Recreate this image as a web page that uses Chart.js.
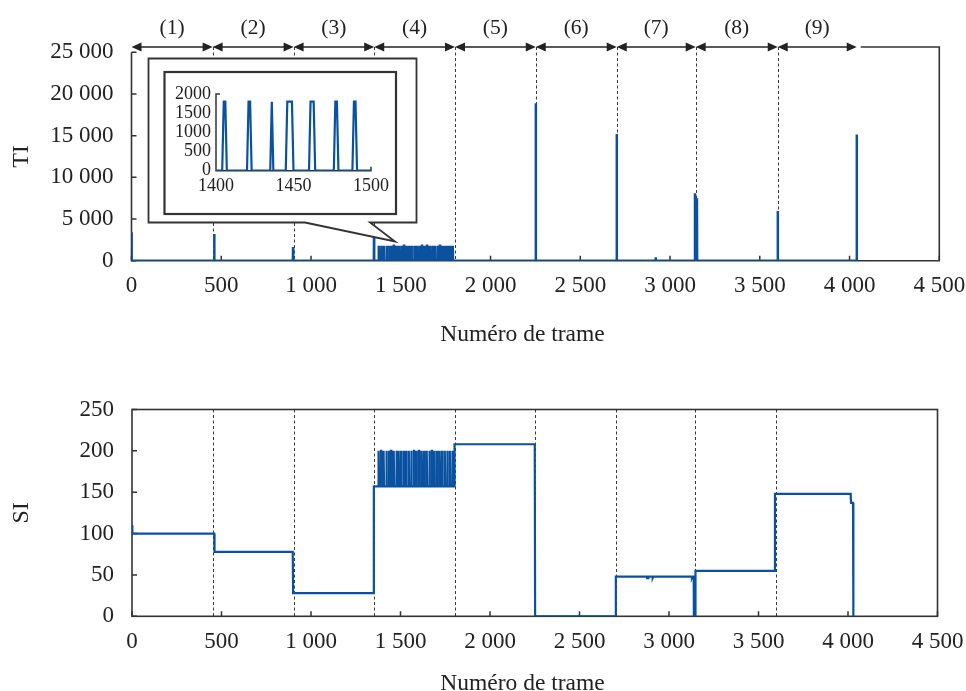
<!doctype html>
<html lang="fr">
<head>
<meta charset="utf-8">
<title>TI / SI par numéro de trame</title>
<style>
  * { margin: 0; padding: 0; }
  body { width: 966px; height: 691px; background: #fff; position: relative; overflow: hidden; }
  canvas { position: absolute; left: 0; }
  #tiChart { top: 0; }
  #siChart { top: 345px; }
  #zoomChart { left: 164px; top: 72px; }
</style>
</head>
<body>
<canvas id="tiChart" width="966" height="345"></canvas>
<canvas id="siChart" width="966" height="346"></canvas>
<canvas id="zoomChart" width="232" height="142"></canvas>
<script src="https://cdn.jsdelivr.net/npm/chart.js/dist/chart.umd.min.js"></script>
<script>
// segment boundaries (frame numbers)
const segmentBounds = [0, 452, 903, 1352, 1802, 2252, 2703, 3143, 3600, 4040];
const segmentLabels = ['(1)', '(2)', '(3)', '(4)', '(5)', '(6)', '(7)', '(8)', '(9)'];

// TI : isolated peaks
const tiSpikeFrames = [0, 461, 900, 1351, 2252, 2703, 2920, 3139, 3150, 3600, 4040];
const tiSpikeValues = [3400, 3200, 1650, 3050, 18900, 15200, 400, 8100, 7500, 5950, 15150];

// section (4) : flashing frames, first / last frame of each plateau
const flashStart = [1377, 1391, 1405, 1421, 1436, 1446, 1461, 1477, 1489, 1503, 1518, 1531, 1546, 1560, 1575,
                    1589, 1603, 1618, 1632, 1646, 1661, 1675, 1689, 1704, 1718, 1732, 1747, 1761, 1775, 1789];
const flashEnd   = [1378, 1392, 1406, 1422, 1436, 1449, 1463, 1478, 1490, 1504, 1519, 1532, 1547, 1561, 1576,
                    1590, 1604, 1619, 1633, 1647, 1662, 1676, 1690, 1705, 1719, 1733, 1748, 1762, 1776, 1790];
const flashTI = 1800;
const flashSILow = 157;
const flashSIHigh = 200;

// SI : step levels
const siFrames = [0, 2, 459, 461, 898, 900, 1349, 1351, 1800, 1802, 2250, 2252, 2701, 2703, 2877, 2878, 2884,
                  2885, 2908, 2909, 2912, 3127, 3128, 3131, 3138, 3139, 3147, 3148, 3590, 3592, 4015, 4017, 4028, 4030];
const siValues = [110, 100, 100, 78, 78, 28, 28, 157, 157, 208, 208, 0, 0, 48, 48, 46, 46,
                  48, 48, 46.5, 48, 48, 46.5, 48, 48, 0, 0, 55, 55, 148, 148, 137, 137, 0];

const blue = '#0a52a0';
const ink = '#222';
const serif = "'Liberation Serif', 'Times New Roman', serif";
const spaced = v => String(v).replace(/\B(?=(\d{3})+(?!\d))/g, ' ');

function buildTI() {
  const pts = [];
  tiSpikeFrames.forEach((f, i) => {
    if (f > 0) pts.push({ x: f - 1, y: 0 });
    pts.push({ x: f, y: tiSpikeValues[i] }, { x: f + 1, y: 0 });
  });
  flashStart.forEach((s, i) => {
    pts.push({ x: s - 1, y: 0 }, { x: s, y: flashTI }, { x: flashEnd[i], y: flashTI }, { x: flashEnd[i] + 1, y: 0 });
  });
  return pts.sort((a, b) => a.x - b.x);
}

function buildSI() {
  const pts = siFrames.map((f, i) => ({ x: f, y: siValues[i] }));
  flashStart.forEach((s, i) => {
    pts.push({ x: s - 1, y: flashSILow }, { x: s, y: flashSIHigh },
             { x: flashEnd[i], y: flashSIHigh }, { x: flashEnd[i] + 2, y: flashSILow });
  });
  return pts.sort((a, b) => a.x - b.x);
}

const tiPoints = buildTI();
const siPoints = buildSI();

function lineSet(points, width) {
  return { data: points, borderColor: blue, borderWidth: width, pointRadius: 0, tension: 0, fill: false };
}

function ticksFont(size) {
  return { family: serif, size: size, lineHeight: 1.2 };
}

// label overflow must not shrink the plot area
function noLabelPadding(scale) {
  scale.paddingLeft = 0;
  scale.paddingRight = 0;
  scale.paddingTop = 0;
  scale.paddingBottom = 0;
}

// inward ticks, shared by both big charts
function drawTicks(chart, len) {
  const { ctx, chartArea: { left, bottom }, scales: { x, y } } = chart;
  ctx.strokeStyle = '#333';
  ctx.lineWidth = 1.5;
  ctx.beginPath();
  x.ticks.forEach(t => {
    const px = x.getPixelForValue(t.value);
    ctx.moveTo(px, bottom); ctx.lineTo(px, bottom - len);
  });
  y.ticks.forEach(t => {
    const py = y.getPixelForValue(t.value);
    ctx.moveTo(left, py); ctx.lineTo(left + len, py);
  });
  ctx.stroke();
}

function drawSeparators(chart, fromY) {
  const { ctx, chartArea: { bottom }, scales: { x } } = chart;
  ctx.save();
  ctx.strokeStyle = '#3a3a3a';
  ctx.lineWidth = 1;
  ctx.setLineDash([3, 2.5]);
  segmentBounds.slice(1, -1).forEach(f => {
    const px = Math.round(x.getPixelForValue(f)) + 0.5;
    ctx.beginPath(); ctx.moveTo(px, fromY); ctx.lineTo(px, bottom); ctx.stroke();
  });
  ctx.restore();
}

function drawTitles(chart, yTitle, xTitleBaseline) {
  const { ctx, chartArea: { top, bottom } } = chart;
  ctx.save();
  ctx.fillStyle = ink;
  ctx.font = `23.5px ${serif}`;
  ctx.textAlign = 'center';
  ctx.textBaseline = 'alphabetic';
  ctx.fillText('Numéro de trame', 522.5, xTitleBaseline);
  ctx.translate(22, (top + bottom) / 2);
  ctx.rotate(-Math.PI / 2);
  ctx.font = `24px ${serif}`;
  ctx.textBaseline = 'middle';
  ctx.fillText(yTitle, 0, 0);
  ctx.restore();
}

const ARROW_Y = 47;

const tiDecor = {
  id: 'tiDecor',
  beforeDatasetsDraw(chart) {
    const { ctx, chartArea: { left, right, top, bottom }, scales: { x } } = chart;
    ctx.save();
    drawSeparators(chart, ARROW_Y);
    ctx.strokeStyle = '#333';
    ctx.lineWidth = 1.6;
    ctx.beginPath();
    ctx.moveTo(left, top); ctx.lineTo(left, bottom); ctx.lineTo(right, bottom);
    ctx.lineTo(right, ARROW_Y);
    ctx.lineTo(x.getPixelForValue(segmentBounds[segmentBounds.length - 1]) + 4, ARROW_Y);
    ctx.stroke();
    drawTicks(chart, 5);
    ctx.restore();
  },
  afterDatasetsDraw(chart) {
    const { ctx, scales: { x } } = chart;
    ctx.save();
    // call-out around the zoomed view
    ctx.beginPath();
    ctx.moveTo(148.5, 58.5); ctx.lineTo(416.5, 58.5); ctx.lineTo(416.5, 222.5);
    ctx.lineTo(370, 222.5); ctx.lineTo(395, 241.5); ctx.lineTo(305, 222.5);
    ctx.lineTo(148.5, 222.5); ctx.closePath();
    ctx.fillStyle = '#fff';
    ctx.fill();
    ctx.strokeStyle = '#333';
    ctx.lineWidth = 1.8;
    ctx.stroke();
    ctx.lineWidth = 2.2;
    ctx.strokeRect(164.5, 72, 231.5, 142);

    // segment arrows
    ctx.fillStyle = ink;
    ctx.strokeStyle = ink;
    ctx.lineWidth = 1.3;
    ctx.font = `21.5px ${serif}`;
    ctx.textAlign = 'center';
    ctx.textBaseline = 'middle';
    for (let i = 0; i < segmentLabels.length; i++) {
      const a = x.getPixelForValue(segmentBounds[i]);
      const b = x.getPixelForValue(segmentBounds[i + 1]);
      ctx.beginPath(); ctx.moveTo(a + 4, ARROW_Y); ctx.lineTo(b - 4, ARROW_Y); ctx.stroke();
      ctx.beginPath();
      ctx.moveTo(a, ARROW_Y); ctx.lineTo(a + 10, ARROW_Y - 4.5); ctx.lineTo(a + 10, ARROW_Y + 4.5); ctx.closePath();
      ctx.moveTo(b, ARROW_Y); ctx.lineTo(b - 10, ARROW_Y - 4.5); ctx.lineTo(b - 10, ARROW_Y + 4.5); ctx.closePath();
      ctx.fill();
      ctx.fillText(segmentLabels[i], (a + b) / 2, 28);
    }
    ctx.restore();
    drawTitles(chart, 'TI', 341);
  }
};

const siDecor = {
  id: 'siDecor',
  beforeDatasetsDraw(chart) {
    const { ctx, chartArea: { left, right, top, bottom } } = chart;
    ctx.save();
    drawSeparators(chart, top);
    ctx.strokeStyle = '#333';
    ctx.lineWidth = 1.6;
    ctx.strokeRect(left, top, right - left, bottom - top);
    drawTicks(chart, 5);
    ctx.restore();
  },
  afterDatasetsDraw(chart) {
    drawTitles(chart, 'SI', 345);
  }
};

const zoomDecor = {
  id: 'zoomDecor',
  beforeDatasetsDraw(chart) {
    const { ctx, chartArea: { left, right, top, bottom } } = chart;
    ctx.save();
    ctx.strokeStyle = '#333';
    ctx.lineWidth = 1.5;
    ctx.beginPath();
    ctx.moveTo(left + 4, top); ctx.lineTo(left, top); ctx.lineTo(left, bottom);
    ctx.lineTo(right, bottom); ctx.lineTo(right, bottom - 4);
    ctx.stroke();
    ctx.restore();
  }
};

function bigScales(yMax, yStep, xPad, yPad, xHeight, leftWidth) {
  return {
    x: {
      type: 'linear', min: 0, max: 4500,
      grid: { display: false, drawTicks: false }, border: { display: false },
      ticks: { stepSize: 500, autoSkip: false, maxRotation: 0, padding: xPad,
               font: ticksFont(23), color: ink, callback: v => spaced(v) },
      afterFit(scale) { scale.height = xHeight; noLabelPadding(scale); }
    },
    y: {
      min: 0, max: yMax,
      grid: { display: false, drawTicks: false }, border: { display: false },
      ticks: { stepSize: yStep, autoSkip: false, padding: yPad,
               font: ticksFont(23), color: ink, callback: v => spaced(v) },
      afterFit(scale) { scale.width = leftWidth; noLabelPadding(scale); }
    }
  };
}

const common = {
  responsive: false,
  animation: false,
  events: [],
  plugins: { legend: { display: false }, tooltip: { enabled: false } }
};

new Chart(document.getElementById('tiChart'), {
  type: 'line',
  data: { datasets: [lineSet(tiPoints, 2.5)] },
  options: {
    ...common,
    layout: { padding: { top: 52.3, right: 966 - 939.3, left: 0, bottom: 0 } },
    scales: bigScales(25000, 5000, 11, 18, 345 - 260.7, 131.5)
  },
  plugins: [tiDecor]
});

new Chart(document.getElementById('siChart'), {
  type: 'line',
  data: { datasets: [lineSet(siPoints, 2.2)] },
  options: {
    ...common,
    layout: { padding: { top: 409.5 - 345, right: 966 - 937.5, left: 0, bottom: 0 } },
    scales: bigScales(250, 50, 12, 18, 346 - (616.3 - 345), 132)
  },
  plugins: [siDecor]
});

new Chart(document.getElementById('zoomChart'), {
  type: 'line',
  data: { datasets: [lineSet(tiPoints, 2.2)] },
  options: {
    ...common,
    layout: { padding: { top: 22, right: 25, left: 0, bottom: 0 } },
    scales: {
      x: {
        type: 'linear', min: 1400, max: 1500,
        grid: { display: false, drawTicks: false }, border: { display: false },
        ticks: { stepSize: 50, autoSkip: false, maxRotation: 0, padding: 5,
                 font: ticksFont(18), color: ink, callback: v => String(v) },
        afterFit(scale) { scale.height = 142 - 98.7; noLabelPadding(scale); }
      },
      y: {
        min: 0, max: 2000,
        grid: { display: false, drawTicks: false }, border: { display: false },
        ticks: { stepSize: 500, autoSkip: false, padding: 5,
                 font: { family: serif, size: 18, lineHeight: 1 }, color: ink, callback: v => String(v) },
        afterFit(scale) { scale.width = 52; noLabelPadding(scale); }
      }
    }
  },
  plugins: [zoomDecor]
});
</script>
</body>
</html>
